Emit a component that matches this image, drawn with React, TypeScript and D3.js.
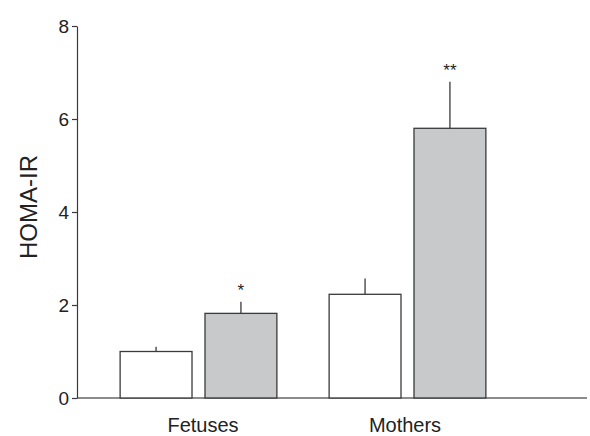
import React, { useEffect, useRef } from 'react';
import * as d3 from 'd3';

// Data
const groups = ['Fetuses', 'Mothers'];
const series = ['control', 'treated'];
const means = [
  [1.0, 1.82],
  [2.23, 5.8],
];
const errors = [
  [0.1, 0.25],
  [0.34, 1.0],
];
const marks = [
  ['', '*'],
  ['', '**'],
];
const yTicks = [0, 2, 4, 6, 8];

const App = () => {
  const ref = useRef<SVGSVGElement>(null);

  useEffect(() => {
    const svg = d3.select(ref.current);
    svg.selectAll('*').remove();

    const font = 'Liberation Sans, Arial, sans-serif';
    const ink = '#3a3a3a';

    const y = d3.scaleLinear().domain([0, 8]).range([398, 26]);
    const x0 = d3.scaleBand().domain(groups).range([94, 512]).paddingInner(0.25).paddingOuter(0.125);
    const x1 = d3.scaleBand().domain(series).range([0, x0.bandwidth()]).paddingInner(0.153);
    const fill = d3.scaleOrdinal<string>().domain(series).range(['#ffffff', '#c8c9cb']);

    // x axis line
    svg.append('line')
      .attr('x1', 77).attr('x2', 587)
      .attr('y1', y(0)).attr('y2', y(0))
      .attr('stroke', '#666').attr('stroke-width', 1.5);

    // y axis
    const yAxis = d3.axisLeft(y).tickValues(yTicks).tickSize(5).tickSizeOuter(0).tickPadding(3);
    const ga = svg.append('g').attr('transform', 'translate(77,0)').call(yAxis);
    ga.select('.domain').attr('stroke', ink).attr('stroke-width', 1.2);
    ga.selectAll('.tick line').attr('stroke', ink).attr('stroke-width', 1.2);
    ga.selectAll('.tick text')
      .attr('font-family', font).attr('font-size', 19).attr('fill', '#222');

    svg.append('text')
      .attr('transform', `translate(37,207) rotate(-90)`)
      .attr('text-anchor', 'middle')
      .attr('font-family', font).attr('font-size', 24).attr('fill', '#222')
      .text('HOMA-IR');

    groups.forEach((g, gi) => {
      const gx = x0(g)!;
      series.forEach((s, si) => {
        const bx = gx + x1(s)!;
        const bw = x1.bandwidth();
        const v = means[gi][si];
        const e = errors[gi][si];
        const cx = bx + bw / 2;
        svg.append('line')
          .attr('x1', cx).attr('x2', cx)
          .attr('y1', y(v)).attr('y2', y(v + e))
          .attr('stroke', ink).attr('stroke-width', 1.3);
        svg.append('rect')
          .attr('x', bx).attr('y', y(v))
          .attr('width', bw).attr('height', y(0) - y(v))
          .attr('fill', fill(s)).attr('stroke', ink).attr('stroke-width', 1.3);
        if (marks[gi][si]) {
          svg.append('text')
            .attr('x', cx).attr('y', y(v + e) - 6)
            .attr('text-anchor', 'middle')
            .attr('font-family', font).attr('font-size', 17).attr('fill', '#222')
            .text(marks[gi][si]);
        }
      });
      svg.append('text')
        .attr('x', gx + x0.bandwidth() / 2 + (gi === 0 ? 4.5 : -2.5)).attr('y', 432)
        .attr('text-anchor', 'middle')
        .attr('font-family', font).attr('font-size', 20).attr('fill', '#222')
        .text(g);
    });
  }, []);

  return (
    <svg ref={ref} width={590} height={436}
      style={{ position: 'absolute', left: 0, top: 0, background: '#fff' }} />
  );
};

export default App;
